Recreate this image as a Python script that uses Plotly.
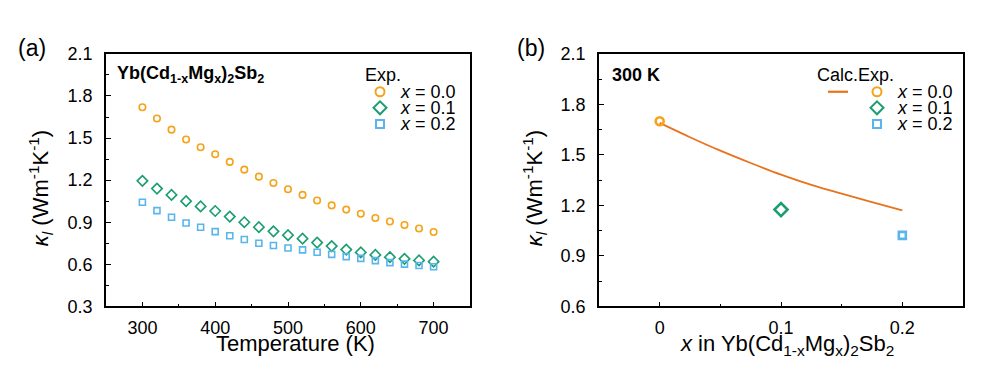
import plotly.graph_objects as go

# ---------------- data ----------------
temperature = [300, 320, 340, 360, 380, 400, 420, 440, 460, 480, 500,
               520, 540, 560, 580, 600, 620, 640, 660, 680, 700]
kappa_x00 = [1.72, 1.64, 1.56, 1.49, 1.435, 1.385, 1.33, 1.275, 1.225, 1.18, 1.135,
             1.095, 1.055, 1.02, 0.99, 0.96, 0.93, 0.905, 0.88, 0.855, 0.83]
kappa_x01 = [1.195, 1.14, 1.095, 1.05, 1.013, 0.98, 0.94, 0.90, 0.865, 0.835, 0.808,
             0.783, 0.755, 0.73, 0.705, 0.685, 0.667, 0.651, 0.639, 0.628, 0.619]
kappa_x02 = [1.042, 0.983, 0.936, 0.895, 0.864, 0.833, 0.804, 0.777, 0.75, 0.734, 0.716,
             0.703, 0.686, 0.671, 0.655, 0.642, 0.626, 0.612, 0.601, 0.592, 0.583]

x_content = [0.0, 0.1, 0.2]
kappa_300K = [1.70, 1.175, 1.022]
calc_x = [0.0, 0.025, 0.05, 0.075, 0.1, 0.125, 0.15, 0.175, 0.2]
calc_kappa = [1.69, 1.605, 1.525, 1.452, 1.383, 1.322, 1.27, 1.22, 1.17]

series_names = ["<i>x</i> = 0.0", "<i>x</i> = 0.1", "<i>x</i> = 0.2"]

# ---------------- styles ----------------
PAGE_W, PAGE_H = 988, 383
OFF = 8  # page body margin
W, H = PAGE_W - 2 * OFF, PAGE_H - 2 * OFF
FONT = "Liberation Sans, Arial, Helvetica, sans-serif"
C_OR = "#F4A31B"
C_GR = "#1A9E70"
C_BL = "#58B5EE"
C_LINE = "#E8731E"
symbols = ["circle-open", "diamond-open", "square-open"]
colors = [C_OR, C_GR, C_BL]

def px_x(p):
    return (p - OFF) / W

def px_y(p):
    return 1 - (p - OFF) / H

fig = go.Figure()

# panel (a)
a_sizes = [6.5, 8, 6]
for vals, sym, col, sz in zip([kappa_x00, kappa_x01, kappa_x02], symbols, colors, a_sizes):
    fig.add_trace(go.Scatter(x=temperature, y=vals, mode="markers", xaxis="x", yaxis="y",
                             marker=dict(symbol=sym, size=sz, color=col,
                                         line=dict(color=col, width=1.6)),
                             showlegend=False, hoverinfo="skip"))

# panel (b)
fig.add_trace(go.Scatter(x=calc_x, y=calc_kappa, mode="lines", xaxis="x2", yaxis="y2",
                         line=dict(color=C_LINE, width=1.8, shape="spline"),
                         showlegend=False, hoverinfo="skip"))
b_sizes = [8, 10, 7]
for xv, yv, sym, col, sz in zip(x_content, kappa_300K, symbols, colors, b_sizes):
    fig.add_trace(go.Scatter(x=[xv], y=[yv], mode="markers", xaxis="x2", yaxis="y2",
                             marker=dict(symbol=sym, size=sz, color=col,
                                         line=dict(color=col, width=2.6)),
                             showlegend=False, hoverinfo="skip"))

# legend glyphs on a page-pixel overlay axis
leg_rows = [86, 103, 120]
leg_sizes = [9, 10, 8]
for row, sym, col, sz in zip(leg_rows, symbols, colors, leg_sizes):
    for lx in (380, 877):
        fig.add_trace(go.Scatter(x=[lx], y=[row], mode="markers", xaxis="x3", yaxis="y3",
                                 marker=dict(symbol=sym, size=sz, color=col,
                                             line=dict(color=col, width=2)),
                                 showlegend=False, hoverinfo="skip"))
fig.add_trace(go.Scatter(x=[828, 848], y=[86, 86], mode="lines", xaxis="x3", yaxis="y3",
                         line=dict(color=C_LINE, width=2.2),
                         showlegend=False, hoverinfo="skip"))

axis_common = dict(showline=True, linecolor="black", linewidth=1.7, mirror=True,
                   ticks="inside", ticklen=5, tickwidth=1.3, tickcolor="black",
                   showgrid=False, zeroline=False,
                   tickfont=dict(family=FONT, size=18, color="black"))

ydom = [px_y(313), px_y(46)]
fig.update_layout(
    width=W, height=H,
    margin=dict(l=0, r=0, t=0, b=0),
    paper_bgcolor="white", plot_bgcolor="rgba(0,0,0,0)",
    xaxis=dict(domain=[px_x(106), px_x(470)], range=[250, 750], tickvals=[300, 400, 500, 600, 700],
               minor=dict(dtick=50, tick0=250, ticks="inside", ticklen=3, tickcolor="black", tickwidth=1.2),
               anchor="y", ticklabelstandoff=4, **axis_common),
    yaxis=dict(domain=ydom, range=[0.3, 2.1], tickvals=[0.3, 0.6, 0.9, 1.2, 1.5, 1.8, 2.1],
               ticktext=["0.3", "0.6", "0.9", "1.2", "1.5", "1.8", "2.1"],
               minor=dict(dtick=0.15, tick0=0.3, ticks="inside", ticklen=3, tickcolor="black", tickwidth=1.2),
               anchor="x", ticklabelstandoff=8, **axis_common),
    xaxis2=dict(domain=[px_x(599), px_x(963)], range=[-0.05, 0.25], tickvals=[0, 0.1, 0.2],
                ticktext=["0", "0.1", "0.2"],
                minor=dict(dtick=0.05, tick0=0, ticks="inside", ticklen=3, tickcolor="black", tickwidth=1.2),
                anchor="y2", ticklabelstandoff=4, **axis_common),
    yaxis2=dict(domain=ydom, range=[0.6, 2.1], tickvals=[0.6, 0.9, 1.2, 1.5, 1.8, 2.1],
                ticktext=["0.6", "0.9", "1.2", "1.5", "1.8", "2.1"],
                minor=dict(dtick=0.15, tick0=0.6, ticks="inside", ticklen=3, tickcolor="black", tickwidth=1.2),
                anchor="x2", ticklabelstandoff=8, **axis_common),
    xaxis3=dict(domain=[0, 1], range=[OFF, W + OFF], visible=False, anchor="y3", fixedrange=True),
    yaxis3=dict(domain=[0, 1], range=[H + OFF, OFF], visible=False, anchor="x3", fixedrange=True),
)

def ann(text, x, y, size, xanchor="left", bold=False, angle=0):
    if bold:
        text = "<b>" + text + "</b>"
    fig.add_annotation(text=text, x=px_x(x), y=px_y(y), xref="paper", yref="paper",
                       xanchor=xanchor, yanchor="middle", showarrow=False, textangle=angle,
                       font=dict(family=FONT, size=size, color="black"))

ylab = "<i>κ</i><sub><i>l</i></sub> (Wm<sup>-1</sup>K<sup>-1</sup>)"
ann("(a)", 32, 40, 23, "center")
ann("(b)", 531, 40, 23, "center")
ann(ylab, 40, 188, 22, "center", angle=-90)
ann(ylab, 534, 188, 22, "center", angle=-90)
ann("Temperature (K)", 295, 352, 22, "center")
ann("<i>x</i> in Yb(Cd<sub>1-x</sub>Mg<sub>x</sub>)<sub>2</sub>Sb<sub>2</sub>", 787, 354, 22, "center")
ann("Yb(Cd<sub>1-x</sub>Mg<sub>x</sub>)<sub>2</sub>Sb<sub>2</sub>", 115, 68, 18, "left", bold=True)
ann("300 K", 610, 68, 18, "left", bold=True)
ann("Exp.", 363, 68, 18, "left")
ann("Calc.Exp.", 815, 68, 18, "left")
for row, name in zip(leg_rows, series_names):
    ann(name, 398, row, 18, "left")
    ann(name, 895, row, 18, "left")

fig.write_html("out.html")
